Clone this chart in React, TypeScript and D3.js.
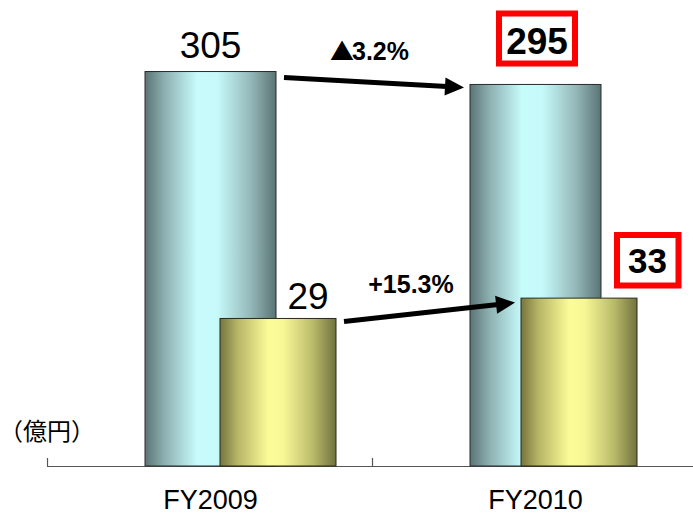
import React from "react";
import * as d3 from "d3";

// Fiscal years and the two series (億円)
const years = ["FY2009", "FY2010"];
const salesValues = [305, 295];
const profitValues = [29, 33];
const salesChange = "3.2%";
const profitChange = "+15.3%";
const unitLabel = "（億円）";

const W = 693;
const H = 516;
const baseY = 466;
const latin = "'Liberation Sans', Arial, Helvetica, sans-serif";
const cjk = "'Noto Sans CJK JP', sans-serif";

// Layout of the bars inside each year band
const blueOffset = 98;
const blueWidth = 131;
const yellowOffsets = [173, 149];
const yellowWidth = 116;

function Arrow({ x1, y1, x2, y2 }: { x1: number; y1: number; x2: number; y2: number }) {
  const dx = x2 - x1;
  const dy = y2 - y1;
  const len = Math.hypot(dx, dy);
  const ux = dx / len;
  const uy = dy / len;
  const headLen = 19;
  const headHalf = 9;
  const bx = x2 - ux * headLen;
  const by = y2 - uy * headLen;
  const px = -uy;
  const py = ux;
  const head = [
    [x2, y2],
    [bx + px * headHalf, by + py * headHalf],
    [bx - px * headHalf, by - py * headHalf],
  ]
    .map((p) => p.join(","))
    .join(" ");
  return (
    <g>
      <line x1={x1} y1={y1} x2={bx + ux * 2} y2={by + uy * 2} stroke="#000" strokeWidth={5} />
      <polygon points={head} fill="#000" />
    </g>
  );
}

export default function App() {
  const x = d3.scaleBand<string>().domain(years).range([47, 697]).padding(0);
  const yBlue = d3.scaleLinear().domain([0, 360.3]).range([baseY, 0]);
  const yYellow = d3.scaleLinear().domain([0, 91.6]).range([baseY, 0]);

  const blueX = (i: number) => (x(years[i]) as number) + blueOffset;
  const yellowX = (i: number) => (x(years[i]) as number) + yellowOffsets[i];

  const a1 = {
    x1: blueX(0) + blueWidth + 8,
    y1: yBlue(salesValues[0]) + 6,
    x2: blueX(1) - 6,
    y2: yBlue(salesValues[1]) + 3,
  };
  const a2 = {
    x1: yellowX(0) + yellowWidth + 8,
    y1: yYellow(profitValues[0]) + 3,
    x2: yellowX(1) - 6,
    y2: yYellow(profitValues[1]) + 4.5,
  };

  return (
    <svg
      width={W}
      height={H}
      style={{ position: "absolute", left: 0, top: 0, background: "#fff" }}
    >
      <defs>
        <linearGradient id="gradBlue" x1="0" y1="0" x2="1" y2="0">
          <stop offset="0%" stopColor="#5a7475" />
          <stop offset="15%" stopColor="#8eb0b1" />
          <stop offset="40%" stopColor="#c8fcfc" />
          <stop offset="55%" stopColor="#c6fafa" />
          <stop offset="80%" stopColor="#97babb" />
          <stop offset="100%" stopColor="#5a7474" />
        </linearGradient>
        <linearGradient id="gradYellow" x1="0" y1="0" x2="1" y2="0">
          <stop offset="0%" stopColor="#75743e" />
          <stop offset="15%" stopColor="#b6b566" />
          <stop offset="42%" stopColor="#fcfc99" />
          <stop offset="55%" stopColor="#f7f796" />
          <stop offset="80%" stopColor="#babb6a" />
          <stop offset="100%" stopColor="#71713f" />
        </linearGradient>
      </defs>

      {/* axis */}
      <line x1={47} y1={baseY + 0.5} x2={W} y2={baseY + 0.5} stroke="#555" strokeWidth={1.2} />
      {[47, 372].map((t) => (
        <line key={t} x1={t + 0.5} y1={458} x2={t + 0.5} y2={baseY} stroke="#555" strokeWidth={1.2} />
      ))}

      {/* sales bars */}
      {salesValues.map((v, i) => (
        <rect
          key={"b" + i}
          x={blueX(i)}
          y={yBlue(v)}
          width={blueWidth}
          height={baseY - yBlue(v)}
          fill="url(#gradBlue)"
          stroke="#2a2a2a"
          strokeWidth={1}
        />
      ))}

      {/* profit bars */}
      {profitValues.map((v, i) => (
        <rect
          key={"y" + i}
          x={yellowX(i)}
          y={yYellow(v)}
          width={yellowWidth}
          height={baseY - yYellow(v)}
          fill="url(#gradYellow)"
          stroke="#2a2a1a"
          strokeWidth={1}
        />
      ))}

      {/* FY2009 values */}
      <text
        x={blueX(0) + blueWidth / 2}
        y={yBlue(salesValues[0]) - 14}
        textAnchor="middle"
        fontFamily={latin}
        fontSize={37}
        fill="#000"
      >
        {salesValues[0]}
      </text>
      <text
        x={yellowX(0) + yellowWidth / 2 + 30}
        y={yYellow(profitValues[0]) - 9}
        textAnchor="middle"
        fontFamily={latin}
        fontSize={37}
        fill="#000"
      >
        {profitValues[0]}
      </text>

      {/* FY2010 values in red boxes */}
      <rect x={499} y={13.5} width={76} height={50} fill="#fff" stroke="#ff0000" strokeWidth={6} />
      <text
        x={537}
        y={yBlue(salesValues[1]) - 30}
        textAnchor="middle"
        fontFamily={latin}
        fontWeight="bold"
        fontSize={37}
        fill="#000"
      >
        {salesValues[1]}
      </text>
      <rect x={617} y={235} width={61.5} height={50.5} fill="#fff" stroke="#ff0000" strokeWidth={6} />
      <text
        x={647.5}
        y={yYellow(profitValues[1]) - 25.5}
        textAnchor="middle"
        fontFamily={latin}
        fontWeight="bold"
        fontSize={35}
        fill="#000"
      >
        {profitValues[1]}
      </text>

      {/* change arrows */}
      <Arrow {...a1} />
      <Arrow {...a2} />
      <text x={331} y={60} fontFamily={latin} fontWeight="bold" fontSize={25} fill="#000">
        <tspan fontFamily={cjk} fontWeight="normal" fontSize={24} dx={-1}>
          ▲
        </tspan>
        <tspan dx={-2}>{salesChange}</tspan>
      </text>
      <text x={411} y={293} textAnchor="middle" fontFamily={latin} fontWeight="bold" fontSize={25} fill="#000">
        {profitChange}
      </text>

      {/* unit */}
      <text x={-1} y={440} fontFamily={cjk} fontSize={24} fill="#000">
        {unitLabel}
      </text>

      {/* category labels */}
      {years.map((yr) => (
        <text
          key={yr}
          x={(x(yr) as number) + blueOffset + blueWidth / 2}
          y={509}
          textAnchor="middle"
          fontFamily={latin}
          fontSize={27}
          fill="#000"
        >
          {yr}
        </text>
      ))}
    </svg>
  );
}
